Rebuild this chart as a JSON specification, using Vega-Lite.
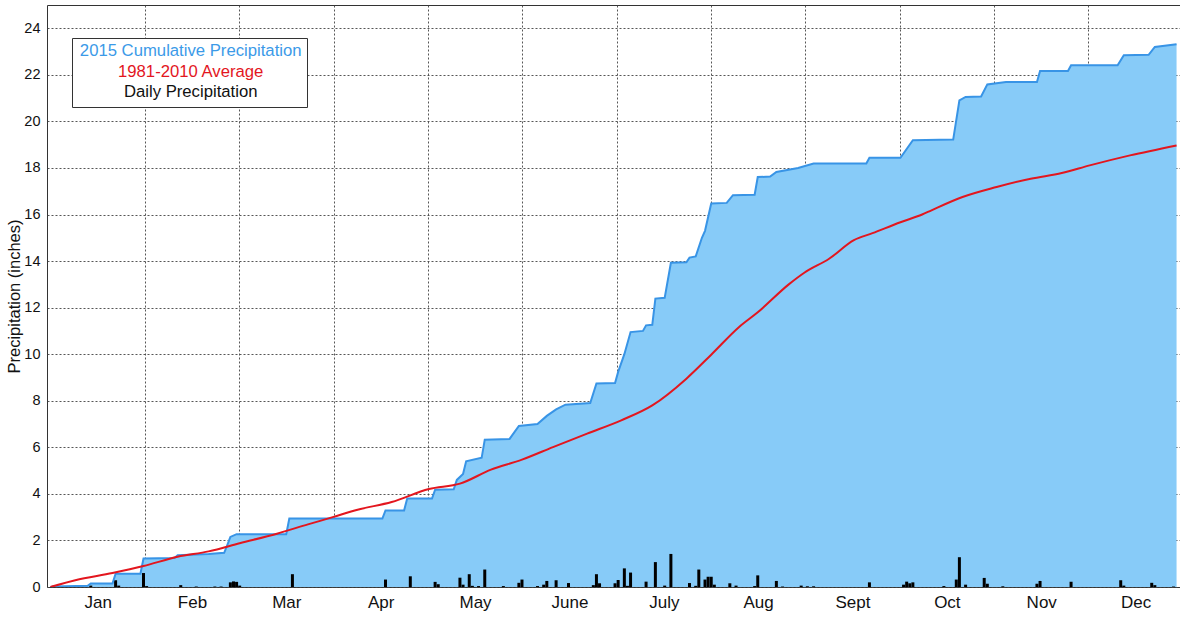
{
  "$schema": "https://vega.github.io/schema/vega-lite/v6.json",
  "autosize": "none",
  "width": 1133,
  "height": 582,
  "padding": {"left": 47, "top": 5, "right": 0, "bottom": 30},
  "background": "white",
  "config": {
    "font": "Liberation Sans",
    "view": {"stroke": "#333333", "strokeWidth": 1},
    "axis": {"domain": false, "ticks": false, "zindex": 1, "gridDash": [2, 2], "gridColor": "#444444", "gridWidth": 1, "labelColor": "#111111", "titleColor": "#111111", "labelFont": "Liberation Sans", "titleFont": "Liberation Sans"}
  },
  "datasets": {
    "cum": [
      {"day":0,"precip":0},{"day":1,"precip":0.02},{"day":12,"precip":0.05},{"day":13,"precip":0.15},{"day":20,"precip":0.15},{"day":21,"precip":0.57},{"day":29,"precip":0.57},{"day":30,"precip":1.22},{"day":40,"precip":1.25},{"day":41,"precip":1.36},{"day":51,"precip":1.42},{"day":56,"precip":1.47},{"day":57,"precip":1.8},{"day":58,"precip":2.15},{"day":60,"precip":2.27},{"day":76,"precip":2.27},{"day":77,"precip":2.94},{"day":107,"precip":2.94},{"day":108,"precip":3.29},{"day":114,"precip":3.29},{"day":115,"precip":3.8},{"day":123,"precip":3.8},{"day":124,"precip":4.18},{"day":130,"precip":4.2},{"day":131,"precip":4.6},{"day":133,"precip":4.85},{"day":134,"precip":5.4},{"day":139,"precip":5.55},{"day":140,"precip":6.33},{"day":148,"precip":6.36},{"day":151,"precip":6.92},{"day":157,"precip":7.0},{"day":160,"precip":7.35},{"day":163,"precip":7.63},{"day":166,"precip":7.83},{"day":174,"precip":7.9},{"day":176,"precip":8.74},{"day":182,"precip":8.76},{"day":183,"precip":9.24},{"day":185,"precip":10.0},{"day":187,"precip":10.95},{"day":191,"precip":11.0},{"day":192,"precip":11.24},{"day":194,"precip":11.26},{"day":195,"precip":12.39},{"day":198,"precip":12.42},{"day":200,"precip":13.93},{"day":205,"precip":13.95},{"day":206,"precip":14.15},{"day":208,"precip":14.2},{"day":210,"precip":15.0},{"day":211,"precip":15.3},{"day":213,"precip":16.47},{"day":218,"precip":16.5},{"day":220,"precip":16.83},{"day":227,"precip":16.85},{"day":228,"precip":17.61},{"day":232,"precip":17.63},{"day":234,"precip":17.83},{"day":241,"precip":18.0},{"day":246,"precip":18.19},{"day":263,"precip":18.19},{"day":264,"precip":18.44},{"day":274,"precip":18.44},{"day":278,"precip":19.19},{"day":291,"precip":19.22},{"day":293,"precip":20.9},{"day":295,"precip":21.05},{"day":300,"precip":21.07},{"day":302,"precip":21.59},{"day":308,"precip":21.69},{"day":318,"precip":21.69},{"day":319,"precip":22.17},{"day":328,"precip":22.17},{"day":329,"precip":22.41},{"day":344,"precip":22.41},{"day":346,"precip":22.84},{"day":354,"precip":22.86},{"day":356,"precip":23.2},{"day":363,"precip":23.31}
    ],
    "avg": [
      {"day":0,"precip":0},{"day":8,"precip":0.29},{"day":20,"precip":0.6},{"day":30,"precip":0.9},{"day":41,"precip":1.3},{"day":51,"precip":1.53},{"day":61,"precip":1.88},{"day":73,"precip":2.29},{"day":83,"precip":2.69},{"day":91,"precip":3.0},{"day":99,"precip":3.32},{"day":110,"precip":3.65},{"day":122,"precip":4.21},{"day":132,"precip":4.44},{"day":142,"precip":5.04},{"day":152,"precip":5.47},{"day":162,"precip":6.01},{"day":173,"precip":6.59},{"day":184,"precip":7.16},{"day":194,"precip":7.8},{"day":205,"precip":8.95},{"day":213,"precip":9.98},{"day":222,"precip":11.17},{"day":228,"precip":11.8},{"day":238,"precip":13.0},{"day":243,"precip":13.5},{"day":251,"precip":14.1},{"day":259,"precip":14.9},{"day":265,"precip":15.2},{"day":274,"precip":15.67},{"day":281,"precip":16.0},{"day":284,"precip":16.18},{"day":294,"precip":16.75},{"day":305,"precip":17.18},{"day":316,"precip":17.54},{"day":326,"precip":17.78},{"day":335,"precip":18.11},{"day":348,"precip":18.54},{"day":363,"precip":18.97}
    ],
    "daily": [
      {"day":1,"precip":0.05},{"day":13,"precip":0.06},{"day":21,"precip":0.29},{"day":22,"precip":0.06},{"day":30,"precip":0.6},{"day":31,"precip":0.04},{"day":42,"precip":0.08},{"day":47,"precip":0.02},{"day":53,"precip":0.02},{"day":55,"precip":0.02},{"day":58,"precip":0.2},{"day":59,"precip":0.24},{"day":60,"precip":0.22},{"day":61,"precip":0.06},{"day":78,"precip":0.55},{"day":108,"precip":0.32},{"day":116,"precip":0.46},{"day":124,"precip":0.22},{"day":125,"precip":0.12},{"day":132,"precip":0.4},{"day":133,"precip":0.1},{"day":135,"precip":0.55},{"day":136,"precip":0.05},{"day":138,"precip":0.04},{"day":140,"precip":0.75},{"day":146,"precip":0.04},{"day":151,"precip":0.18},{"day":152,"precip":0.32},{"day":157,"precip":0.04},{"day":159,"precip":0.1},{"day":160,"precip":0.26},{"day":163,"precip":0.29},{"day":167,"precip":0.17},{"day":175,"precip":0.08},{"day":176,"precip":0.55},{"day":177,"precip":0.16},{"day":182,"precip":0.16},{"day":183,"precip":0.3},{"day":185,"precip":0.8},{"day":186,"precip":0.05},{"day":187,"precip":0.62},{"day":192,"precip":0.23},{"day":195,"precip":1.07},{"day":198,"precip":0.06},{"day":200,"precip":1.42},{"day":206,"precip":0.17},{"day":208,"precip":0.05},{"day":209,"precip":0.75},{"day":211,"precip":0.32},{"day":212,"precip":0.44},{"day":213,"precip":0.44},{"day":214,"precip":0.1},{"day":219,"precip":0.16},{"day":221,"precip":0.06},{"day":227,"precip":0.04},{"day":228,"precip":0.5},{"day":234,"precip":0.26},{"day":236,"precip":0.02},{"day":242,"precip":0.06},{"day":244,"precip":0.03},{"day":246,"precip":0.03},{"day":264,"precip":0.2},{"day":275,"precip":0.1},{"day":276,"precip":0.23},{"day":277,"precip":0.16},{"day":278,"precip":0.2},{"day":288,"precip":0.04},{"day":292,"precip":0.32},{"day":293,"precip":1.28},{"day":295,"precip":0.1},{"day":301,"precip":0.39},{"day":302,"precip":0.14},{"day":307,"precip":0.03},{"day":318,"precip":0.14},{"day":319,"precip":0.26},{"day":329,"precip":0.23},{"day":345,"precip":0.29},{"day":346,"precip":0.06},{"day":355,"precip":0.18},{"day":356,"precip":0.08},{"day":362,"precip":0.02}
    ]
  },
  "encoding": {
    "x": {
      "field": "day", "type": "quantitative",
      "scale": {"domain": [0.5, 362.5], "nice": false, "zero": false},
      "axis": {
        "title": null,
        "values": [15.2083, 30.4167, 45.625, 60.8333, 76.0417, 91.25, 106.4583, 121.6667, 136.875, 152.0833, 167.2917, 182.5, 197.7083, 212.9167, 228.125, 243.3333, 258.5417, 273.75, 288.9583, 304.1667, 319.375, 334.5833, 349.7917],
        "labelExpr": "abs((datum.value / 30.41667) % 1 - 0.5) < 0.01 ? ['Jan','Feb','Mar','Apr','May','June','July','Aug','Sept','Oct','Nov','Dec'][floor(datum.value / 30.41667)] : ''",
        "gridOpacity": {"condition": {"test": "abs((datum.value / 30.41667) % 1 - 0.5) < 0.01", "value": 0}, "value": 0.9},
        "labelFontSize": 17,
        "labelPadding": 7,
        "labelFlush": false,
        "labelOverlap": false
      }
    },
    "y": {
      "field": "precip", "type": "quantitative",
      "scale": {"domain": [0, 25], "nice": false},
      "axis": {
        "title": "Precipitation (inches)",
        "values": [0, 2, 4, 6, 8, 10, 12, 14, 16, 18, 20, 22, 24],
        "labelFontSize": 14.5,
        "labelPadding": 7,
        "titleFontSize": 16.5,
        "titleFontWeight": "normal",
        "titlePadding": 1,
        "gridOpacity": 0.9
      }
    }
  },
  "layer": [
    {
      "data": {"name": "cum"},
      "mark": {"type": "area", "clip": true, "interpolate": "linear"},
      "encoding": {
        "color": {
          "datum": "2015 Cumulative Precipitation",
          "scale": {"domain": ["2015 Cumulative Precipitation", "1981-2010 Average", "Daily Precipitation"], "range": ["#87CBF8", "#E3161E", "#000000"]},
          "legend": {
            "title": null,
            "orient": "none",
            "legendX": 25,
            "legendY": 33,
            "direction": "vertical",
            "fillColor": "white",
            "strokeColor": "#333333",
            "padding": 5,
            "symbolOpacity": 0,
            "symbolSize": 1,
            "symbolType": "circle",
            "labelAlign": "center",
            "labelOffset": 97,
            "labelLimit": 400,
            "labelFontSize": 16.7,
            "labelFont": "Liberation Sans",
            "rowPadding": 2.5,
            "zindex": 3,
            "encode": {
              "labels": {
                "update": {
                  "fill": {"signal": "datum.value == '2015 Cumulative Precipitation' ? '#3B9AE8' : datum.value == '1981-2010 Average' ? '#E3161E' : '#111111'"}
                }
              }
            }
          }
        }
      }
    },
    {
      "data": {"name": "daily"},
      "mark": {"type": "bar", "width": 3, "clip": true},
      "encoding": {"color": {"datum": "Daily Precipitation"}}
    },
    {
      "data": {"name": "cum"},
      "mark": {"type": "line", "clip": true, "color": "#3894E6", "strokeWidth": 2},
      "encoding": {}
    },
    {
      "data": {"name": "avg"},
      "mark": {"type": "line", "clip": true, "strokeWidth": 2, "interpolate": "monotone"},
      "encoding": {"color": {"datum": "1981-2010 Average"}}
    }
  ]
}
